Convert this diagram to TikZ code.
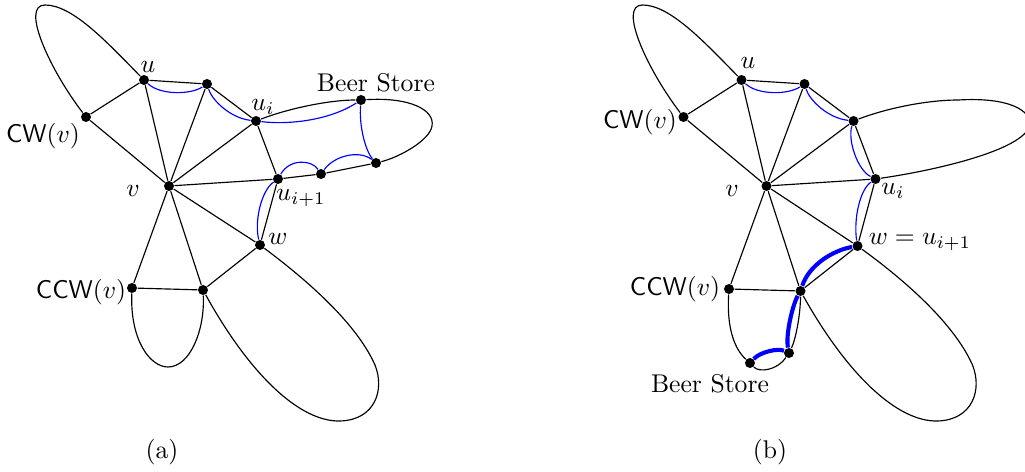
\documentclass[tikz,border=0pt]{standalone}
\begin{document}
\begin{tikzpicture}[x=0.39pt,y=-0.39pt,
  dot/.style={circle,fill=black,inner sep=0pt,minimum size=3.9pt},
  edge/.style={black,line width=0.45pt},
  bl/.style={blue,line width=0.45pt},
  thickbl/.style={blue,line width=1.6pt},
  lab/.style={inner sep=0pt}]
\useasboundingbox (0,0) rectangle (1025,472);

% ---------- panel (a) ----------
\node[dot] (au) at (144,80) {};
\node[dot] (an) at (207,84) {};
\node[dot] (acw) at (86,117) {};
\node[dot] (aui) at (256,121) {};
\node[dot] (abs) at (361,100) {};
\node[dot] (ar) at (376,163) {};
\node[dot] (am) at (321,174) {};
\node[dot] (auj) at (278,179) {};
\node[dot] (av) at (169,186) {};
\node[dot] (aw) at (260,245) {};
\node[dot] (accw) at (132,288) {};
\node[dot] (ab) at (203,290) {};

\draw[edge] (au)--(an) (au)--(acw) (au)--(av) (an)--(av) (an)--(aui)
  (acw)--(av) (aui)--(av) (aui)--(auj) (av)--(auj) (av)--(aw) (av)--(accw)
  (av)--(ab) (aw)--(ab) (aw)--(auj) (accw)--(ab) (auj)--(am) (am)--(ar);
% loops
\draw[edge] (au) .. controls (105,40) and (72,5) .. (45,5) .. controls (20,5) and (50,70) .. (acw);
\draw[edge] (aui) .. controls (290,108) and (330,100) .. (abs);
\draw[edge] (abs) .. controls (410,97) and (435,110) .. (432,126) .. controls (430,140) and (400,157) .. (ar);
\draw[edge] (accw) .. controls (130,340) and (150,367) .. (168,367) .. controls (190,367) and (205,330) .. (ab);
\draw[edge] (ab) .. controls (250,375) and (300,422) .. (340,421) .. controls (375,420) and (385,390) .. (375,365) .. controls (355,320) and (300,275) .. (aw);
% blue
\draw[bl] (au) .. controls (160,95) and (190,95) .. (an);
\draw[bl] (an) .. controls (212,100) and (230,118) .. (aui);
\draw[bl] (aui) .. controls (290,125) and (330,120) .. (abs);
\draw[bl] (abs) .. controls (359,125) and (365,150) .. (ar);
\draw[bl] (ar) .. controls (360,150) and (335,155) .. (am);
\draw[bl] (am) .. controls (312,160) and (290,158) .. (auj);
\draw[bl] (auj) .. controls (262,190) and (254,220) .. (aw);

% labels (a)
\node[lab] (lau) at (148,67) {$u$};
\node[lab] (laui) at (263,107) {$u_i$};
\node[lab] (labs) at (376,83) {Beer Store};
\node[lab] (lacw) at (43,136) {\textsf{CW}$(v)$};
\node[lab] (lav) at (133,191) {$v$};
\node[lab] (lauj) at (301,198) {$u_{i+1}$};
\node[lab] (law) at (278,239) {$w$};
\node[lab] (laccw) at (81,292) {\textsf{CCW}$(v)$};
\node[lab] (lacap) at (162,452) {(a)};

% ---------- panel (b) ----------
\begin{scope}[shift={(597.5,0)}]
\node[dot] (bu) at (144,80) {};
\node[dot] (bn) at (207,84) {};
\node[dot] (bcw) at (86,117) {};
\node[dot] (bn3) at (256,121) {};
\node[dot] (bui) at (278,179) {};
\node[dot] (bv) at (169,186) {};
\node[dot] (bw) at (260,246) {};
\node[dot] (bccw) at (131.5,289) {};
\node[dot] (bb) at (203,291) {};
\node[dot] (blow) at (191.5,353) {};
\node[dot] (bbs) at (152.5,363) {};

\draw[edge] (bu)--(bn) (bu)--(bcw) (bu)--(bv) (bn)--(bv) (bn)--(bn3)
  (bcw)--(bv) (bn3)--(bv) (bn3)--(bui) (bv)--(bui) (bv)--(bw) (bui)--(bw)
  (bv)--(bccw) (bv)--(bb) (bw)--(bb) (bccw)--(bb);
\draw[edge] (bu) .. controls (105,40) and (72,5) .. (45,5) .. controls (20,5) and (50,70) .. (bcw);
\draw[edge] (bn3) .. controls (290,108) and (330,100) .. (361,100) .. controls (410,97) and (435,110) .. (432,126) .. controls (425,150) and (340,170) .. (bui);
\draw[edge] (bccw) .. controls (129,330) and (138,350) .. (bbs);
\draw[edge] (bbs) .. controls (162,373) and (180,370) .. (blow);
\draw[edge] (blow) .. controls (198,340) and (203,315) .. (bb);
\draw[edge] (bb) .. controls (250,375) and (300,422) .. (340,421) .. controls (375,420) and (385,390) .. (375,365) .. controls (355,320) and (300,275) .. (bw);
% blue
\draw[bl] (bu) .. controls (160,95) and (190,95) .. (bn);
\draw[bl] (bn) .. controls (212,100) and (230,118) .. (bn3);
\draw[bl] (bn3) .. controls (250,140) and (260,170) .. (bui);
\draw[bl] (bui) .. controls (262,190) and (256,220) .. (bw);
\draw[thickbl] (bw) .. controls (237,250) and (212,264) .. (bb);
\draw[thickbl] (bb) .. controls (195,305) and (188,335) .. (blow);
\draw[thickbl] (blow) .. controls (180.5,348) and (162.5,352) .. (bbs);
\end{scope}

% labels (b)
\node[lab] (lbu) at (748,63) {$u$};
\node[lab] (lbcw) at (640,122) {\textsf{CW}$(v)$};
\node[lab] (lbv) at (732,191) {$v$};
\node[lab] (lbui) at (893,191) {$u_i$};
\node[lab] (lbw) at (920,242) {$w=u_{i+1}$};
\node[lab] (lbccw) at (675,289) {\textsf{CCW}$(v)$};
\node[lab] (lbbs) at (710,384) {Beer Store};
\node[lab] (lbcap) at (770,452) {(b)};
\end{tikzpicture}
\end{document}
